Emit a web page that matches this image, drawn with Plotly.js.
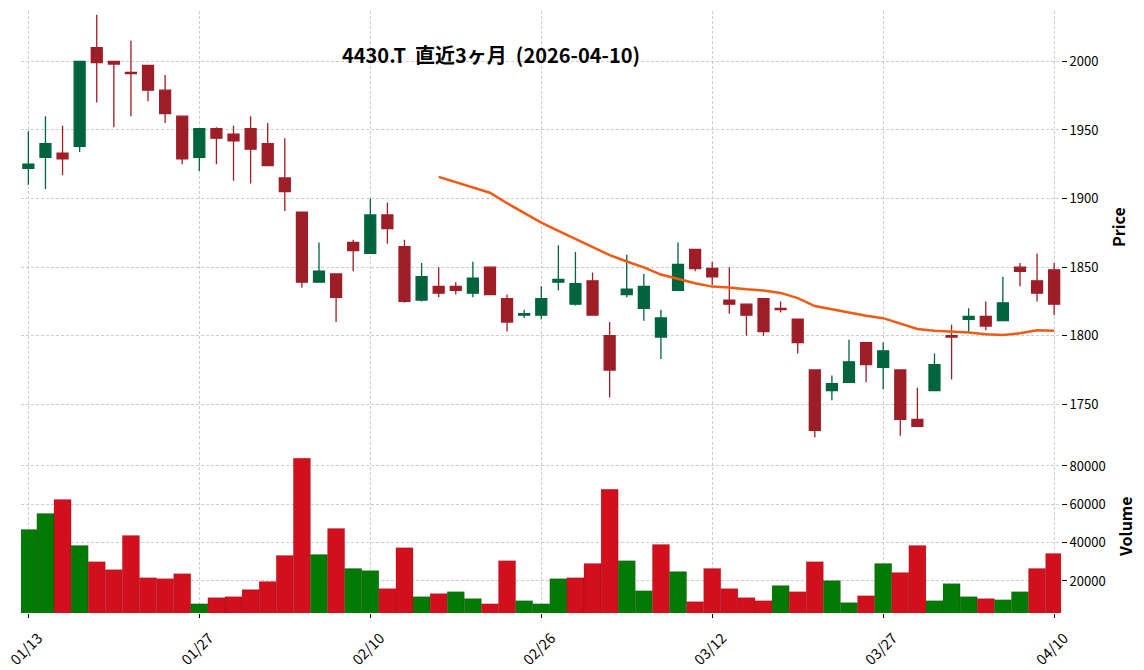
<!DOCTYPE html>
<html>
<head>
<meta charset="utf-8">
<script src="https://cdn.plot.ly/plotly-3.0.1.min.js"></script>
<style>html,body{margin:0;padding:0;background:#fff;}#chart{width:1144px;height:670px;}</style>
</head>
<body>
<div id="chart"></div>
<script>
// Trading-day index (0..60) and the dates shown as x tick labels
const dayIndex = Array.from({length: 61}, (_, i) => i);
const tickIdx = [0, 10, 20, 30, 40, 50, 60];
const tickLabels = ['01/13', '01/27', '02/10', '02/26', '03/12', '03/27', '04/10'];

const openP = [1922,1930,1933,1938,2010,2000,1992,1997,1979,1960,
               1930,1951,1947,1951,1940,1915,1890,1839,1845,1868,
               1860,1888,1865,1826,1836,1836,1831,1850,1827,1815,
               1815,1839,1823,1840,1800,1830,1820,1799,1833,1863,
               1849,1826,1823,1827,1820,1812,1775,1760,1766,1795,
               1777,1775,1739,1760,1800,1812,1814,1811,1850,1840,
               1848];
const highP = [1949,1960,1953,2000,2034,2000,2015,1997,1990,1960,
               1951,1952,1953,1960,1955,1944,1890,1868,1845,1870,
               1900,1897,1870,1853,1850,1839,1854,1850,1830,1819,
               1836,1866,1861,1846,1810,1859,1845,1819,1868,1863,
               1854,1850,1823,1827,1825,1812,1775,1771,1797,1795,
               1795,1775,1762,1787,1808,1820,1825,1843,1853,1860,
               1853];
const lowP  = [1910,1907,1917,1934,1970,1952,1960,1971,1955,1925,
               1920,1925,1913,1911,1924,1891,1835,1839,1810,1847,
               1860,1867,1824,1825,1828,1830,1828,1830,1803,1813,
               1812,1833,1822,1815,1755,1828,1811,1783,1833,1847,
               1837,1816,1800,1800,1817,1787,1726,1753,1766,1766,
               1761,1727,1734,1760,1768,1802,1804,1811,1836,1825,
               1815];
const closeP = [1925,1940,1929,2000,1999,1998,1991,1979,1962,1929,
                1951,1944,1942,1936,1924,1905,1839,1847,1828,1862,
                1888,1878,1825,1843,1831,1833,1842,1830,1810,1816,
                1827,1841,1838,1815,1775,1834,1836,1813,1852,1849,
                1843,1823,1815,1803,1819,1795,1731,1765,1781,1779,
                1789,1739,1734,1779,1799,1814,1807,1824,1847,1831,
                1823];
const volume = [46900,55200,62500,38500,30100,25900,43700,21700,21200,23800,
                8100,11300,11800,15500,19700,33300,84000,33800,47400,26500,
                25400,16000,37400,11800,13400,14400,10800,8100,30600,9700,
                8100,21200,21700,29100,67800,30600,14900,39000,24900,9200,
                26500,16000,11300,9700,17600,14400,30100,20200,8700,12300,
                29100,24400,38500,9700,18600,11800,10800,10200,14400,26500,
                34300];
// 25-day moving average (starts at day 24)
const maIdx = Array.from({length: 37}, (_, i) => i + 24);
const ma25 = [1915.8,1912.1,1908.2,1904.2,1896.6,1889.3,1882.5,1876.5,1870.8,1865.0,
              1858.8,1854.1,1849.8,1844.6,1841.3,1838.3,1835.8,1835.2,1833.9,1832.9,
              1831.2,1827.4,1821.6,1819.2,1816.7,1814.6,1812.8,1808.7,1804.9,1803.6,
              1803.0,1802.4,1801.1,1800.5,1801.8,1804.0,1803.6];

const UP = '#00643f', DOWN = '#9e1e28';
const VUP = '#037a05', VDOWN = '#d20f1c';
const volColors = closeP.map((c, i) => (i === 0 || c >= closeP[i - 1]) ? VUP : VDOWN);

const FONT = '"Noto Sans CJK JP", "Noto Sans", sans-serif';
const gridStyle = {showgrid: true, gridcolor: '#c2c2c2', griddash: '3px,2px', gridwidth: 0.8, zeroline: false, showline: false};
const xr = [-0.43, 60.4];

const traces = [
  {
    type: 'candlestick', x: dayIndex, open: openP, high: highP, low: lowP, close: closeP,
    xaxis: 'x', yaxis: 'y',
    increasing: {line: {color: UP, width: 1.3}, fillcolor: UP},
    decreasing: {line: {color: DOWN, width: 1.3}, fillcolor: DOWN},
    whiskerwidth: 0, showlegend: false, hoverinfo: 'skip'
  },
  {
    type: 'scatter', mode: 'lines', x: maIdx, y: ma25, xaxis: 'x', yaxis: 'y',
    line: {color: '#f25a12', width: 2.5}, showlegend: false, hoverinfo: 'skip'
  },
  {
    type: 'bar', x: dayIndex, y: volume, xaxis: 'x2', yaxis: 'y2', width: 1,
    marker: {color: volColors, line: {color: 'rgba(60,0,0,0.25)', width: 0.6}},
    showlegend: false, hoverinfo: 'skip'
  }
];

const layout = {
  width: 1144, height: 670,
  margin: {l: 21, r: 83, t: 11, b: 57, pad: 0},
  paper_bgcolor: '#ffffff', plot_bgcolor: '#ffffff',
  font: {family: FONT, size: 13, color: '#000'},
  boxgap: 0.36, boxgroupgap: 0,
  bargap: 0,
  title: {
    text: '4430.T\u00a0\u00a0直近3ヶ月\u00a0\u00a0(2026-04-10)',
    font: {family: FONT, size: 20, color: '#000', weight: 'bold'},
    xref: 'paper', x: 0.452, xanchor: 'center',
    yref: 'container', y: 1 - 56 / 670, yanchor: 'middle'
  },
  xaxis: Object.assign({}, gridStyle, {
    domain: [0, 1], anchor: 'y', range: xr, tickvals: tickIdx, ticktext: tickLabels,
    showticklabels: false, ticks: '', rangeslider: {visible: false}
  }),
  yaxis: Object.assign({}, gridStyle, {
    domain: [0.289, 1], anchor: 'x', side: 'right', range: [1724.7, 2036.7],
    tickvals: [1750, 1800, 1850, 1900, 1950, 2000],
    ticks: 'outside', ticklen: 5, tickcolor: '#000', tickwidth: 1,
    tickfont: {size: 13, color: '#000'}
  }),
  xaxis2: Object.assign({}, gridStyle, {
    domain: [0, 1], anchor: 'y2', range: xr, tickvals: tickIdx, ticktext: tickLabels,
    ticks: 'outside', ticklen: 4, tickcolor: '#000', tickwidth: 1, tickangle: -45,
    ticklabelshift: 10, ticklabelstandoff: 6, tickfont: {size: 14.5, color: '#000'}
  }),
  yaxis2: Object.assign({}, gridStyle, {
    domain: [0, 0.284], anchor: 'x2', side: 'right', range: [3300, 92500],
    tickvals: [20000, 40000, 60000, 80000], tickformat: 'd',
    ticks: 'outside', ticklen: 5, tickcolor: '#000', tickwidth: 1,
    tickfont: {size: 13, color: '#000'}
  }),
  annotations: [
    {text: 'Price', xref: 'paper', yref: 'paper', x: (1118 - 21) / 1040, y: (613 - 227) / 602,
     xanchor: 'center', yanchor: 'middle', textangle: -90, showarrow: false,
     font: {family: FONT, size: 16, color: '#000', weight: 'bold'}},
    {text: 'Volume', xref: 'paper', yref: 'paper', x: (1125 - 21) / 1040, y: (613 - 527) / 602,
     xanchor: 'center', yanchor: 'middle', textangle: -90, showarrow: false,
     font: {family: FONT, size: 16, color: '#000', weight: 'bold'}}
  ]
};

Plotly.newPlot('chart', traces, layout, {staticPlot: true, displayModeBar: false});
</script>
</body>
</html>
